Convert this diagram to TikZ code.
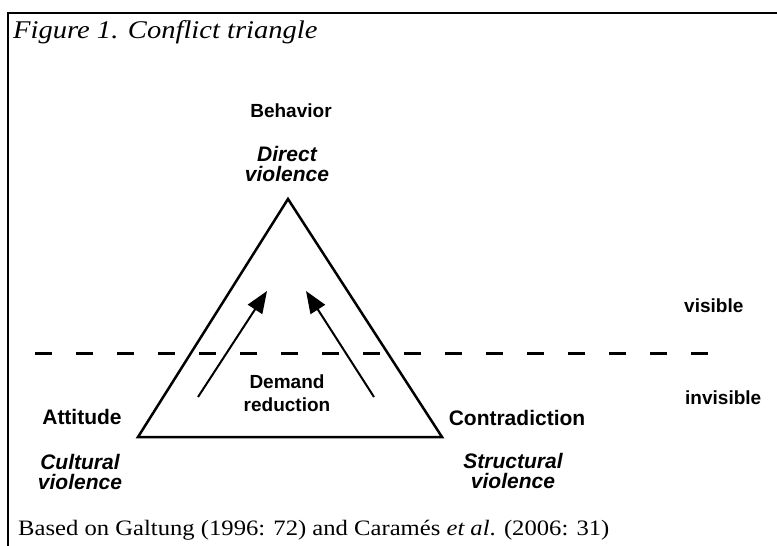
\documentclass[tikz,border=0pt]{standalone}
\usepackage{fontspec}
\setmainfont{Liberation Serif}[FakeStretch=1.12]
\setsansfont{Liberation Sans}
\usetikzlibrary{arrows.meta,positioning,calc}

\tikzset{
  vertexlabel/.style={font=\sffamily\bfseries\fontsize{19}{20}\selectfont, inner sep=0pt},
  cornerlabel/.style={font=\sffamily\bfseries\fontsize{21}{22}\selectfont, inner sep=0pt, anchor=base},
  violencelabel/.style={font=\sffamily\bfseries\itshape\fontsize{21}{20}\selectfont, align=center, inner sep=0pt, anchor=north},
  sidelabel/.style={font=\sffamily\bfseries\fontsize{19}{20}\selectfont, inner sep=0pt, anchor=base west},
  uparrow/.style={-{Triangle[length=22pt,width=17pt]}, line width=2pt},
}

\begin{document}
\begin{tikzpicture}[x=1pt,y=-1pt]
    \useasboundingbox (0,0) rectangle (777,546);

    % Frame and title
    \draw[line width=2pt] (8,546) -- (8,13) -- (777,13);
    \node[anchor=base west, inner sep=0pt, font=\itshape\fontsize{25.5}{30}\selectfont] (title) at (13,38) {Figure 1. Conflict triangle};

    % Triangle
    \coordinate (apex) at (288,199);
    \coordinate (leftcorner) at (138,437);
    \coordinate (rightcorner) at (442,437);
    \draw[line width=2.5pt] (apex) -- (leftcorner) -- (rightcorner) -- cycle;

    % Visible / invisible border
    \coordinate (dashstart) at (35,353);
    \coordinate (dashend) at (708,353);
    \draw[line width=3pt, dash pattern=on 17pt off 24pt] (dashstart) -- (dashend);
    \node[sidelabel] (visible) at (684,312) {visible};
    \node[sidelabel] (invisible) at (685,404) {invisible};

    % Demand reduction
    \coordinate (lefttail) at (198,397);
    \coordinate (lefttip) at (267,291);
    \coordinate (righttail) at (374,397);
    \coordinate (righttip) at (306,291);
    \draw[uparrow] (lefttail) -- (lefttip);
    \draw[uparrow] (righttail) -- (righttip);
    \node[vertexlabel, align=center, anchor=north, font=\sffamily\bfseries\fontsize{19}{22.5}\selectfont] (demand) at (287,375) {Demand\\reduction};

    % Corners
    \node[vertexlabel, anchor=base] (behavior) at (291,117) {Behavior};
    \node[violencelabel] (direct) at (287,146) {Direct\\violence};
    \node[cornerlabel] (attitude) at (82,424) {Attitude};
    \node[violencelabel] (cultural) at (80,454) {Cultural\\violence};
    \node[cornerlabel] (contradiction) at (517,425) {Contradiction};
    \node[violencelabel] (structural) at (513,453) {Structural\\violence};

    % Source
    \node[anchor=base west, inner sep=0pt, font=\fontsize{22}{26}\selectfont] (source) at (18,535) {Based on Galtung (1996: 72) and Caramés \textit{et al}. (2006: 31)};
\end{tikzpicture}
\end{document}
